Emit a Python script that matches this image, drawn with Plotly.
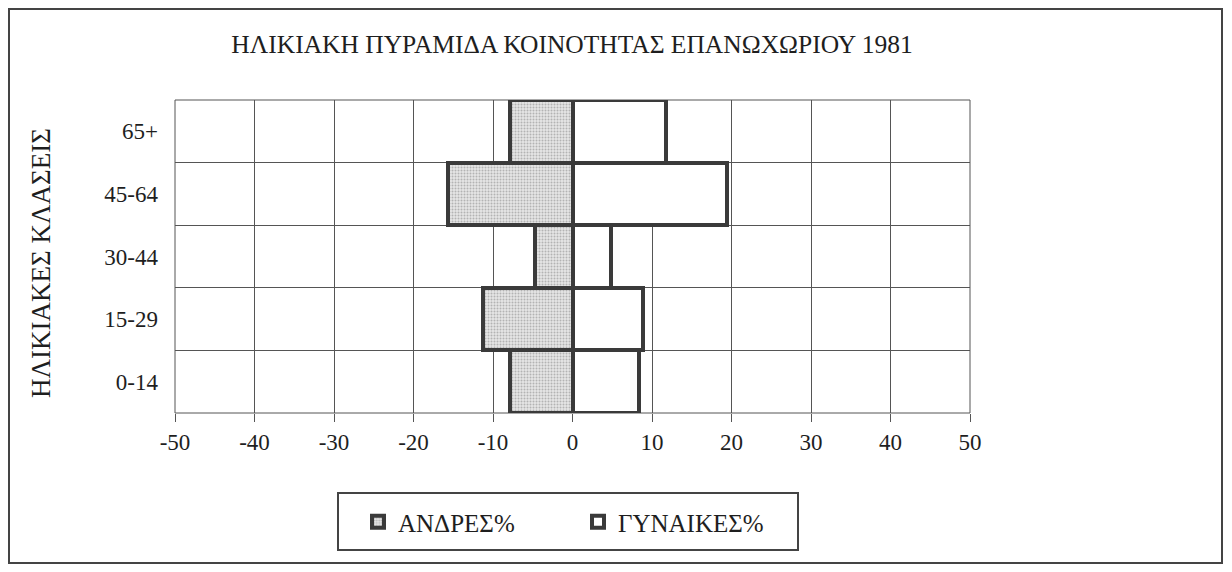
import plotly.graph_objects as go

categories = ["0-14", "15-29", "30-44", "45-64", "65+"]
men_pct = [-7.9, -11.3, -4.7, -15.7, -7.9]
women_pct = [8.4, 8.9, 4.9, 19.4, 11.7]
x_ticks = [-50, -40, -30, -20, -10, 0, 10, 20, 30, 40, 50]

title_text = "ΗΛΙΚΙΑΚΗ ΠΥΡΑΜΙΔΑ ΚΟΙΝΟΤΗΤΑΣ ΕΠΑΝΩΧΩΡΙΟΥ 1981"
ytitle_text = "ΗΛΙΚΙΑΚΕΣ ΚΛΑΣΕΙΣ"

# page body has an 8px margin, so the figure is drawn 8px in from the window edge
OFF = 8
W, H = 1216, 556
L, R, T, B = 175 - OFF, 970 - OFF, 100 - OFF, 413 - OFF
FONT = "Liberation Serif, Times New Roman, serif"
EDGE = "#3a3a3a"
TXT = "#1e1e1e"


def px(x):
    """reference-screen x -> paper"""
    return (x - OFF - L) / (R - L)


def py(y):
    """reference-screen y -> paper"""
    return (B - (y - OFF)) / (B - T)


fig = go.Figure()
fig.add_trace(go.Bar(
    y=categories, x=men_pct, orientation="h", name="ΑΝΔΡΕΣ%",
    marker=dict(color="#dcdcdc", line=dict(color=EDGE, width=4),
                pattern=dict(shape=".", fgcolor="#808080", bgcolor="#e6e6e6",
                             size=3, solidity=0.35)),
))
fig.add_trace(go.Bar(
    y=categories, x=women_pct, orientation="h", name="ΓΥΝΑΙΚΕΣ%",
    marker=dict(color="white", line=dict(color=EDGE, width=4)),
))

fig.update_layout(
    width=W, height=H,
    margin=dict(l=L, r=W - R, t=T, b=H - B),
    paper_bgcolor="white", plot_bgcolor="white",
    barmode="overlay", bargap=0,
    font=dict(family=FONT, size=23, color=TXT),
    showlegend=True,
    legend=dict(orientation="h", x=px(358), y=py(522), xanchor="left", yanchor="middle",
                entrywidth=175, entrywidthmode="pixels",
                font=dict(size=25, family=FONT, color=TXT),
                bgcolor="rgba(0,0,0,0)", traceorder="normal"),
    title=dict(text=title_text, xref="paper", x=px(572), xanchor="center",
               y=1 - (44 - OFF) / H, yanchor="middle",
               font=dict(size=25.5, family=FONT, color=TXT)),
    xaxis=dict(range=[-50, 50], tickvals=x_ticks, ticktext=[str(v) for v in x_ticks],
               showgrid=True, gridcolor="#555", gridwidth=1, zeroline=False,
               ticks="outside", ticklen=8, tickcolor="#555", tickwidth=1,
               showline=False, tickfont=dict(size=23, family=FONT, color=TXT)),
    yaxis=dict(type="category", categoryorder="array", categoryarray=categories,
               showgrid=True, gridcolor="#555", gridwidth=1, tickson="boundaries",
               ticks="", showline=False, zeroline=False, ticklabelstandoff=16,
               tickfont=dict(size=23, family=FONT, color=TXT)),
)

# y-axis title placed as annotation
fig.add_annotation(text=ytitle_text, xref="paper", yref="paper", x=px(41), y=py(263),
                   textangle=-90, showarrow=False, xanchor="center", yanchor="middle",
                   font=dict(size=27, family=FONT, color=TXT))

# outer frame
fig.add_shape(type="rect", xref="paper", yref="paper", x0=px(9), x1=px(1222), y0=py(563), y1=py(9),
              line=dict(color="#444", width=2), fillcolor="rgba(0,0,0,0)", layer="below")
# legend box
fig.add_shape(type="rect", xref="paper", yref="paper", x0=px(338), x1=px(798), y0=py(550), y1=py(493),
              line=dict(color="#444", width=2), fillcolor="rgba(0,0,0,0)")
# plot border
fig.add_shape(type="rect", xref="paper", yref="paper", x0=0, x1=1, y0=0, y1=1,
              line=dict(color="#555", width=1), fillcolor="rgba(0,0,0,0)", layer="below")

fig.write_html("out.html")
